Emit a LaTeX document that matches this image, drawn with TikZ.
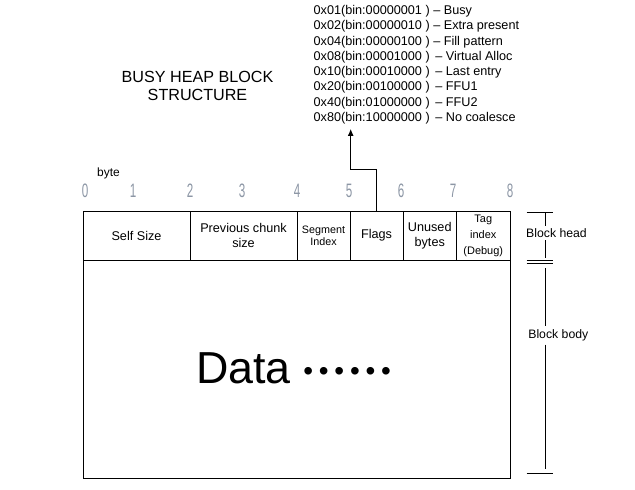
\documentclass[tikz,border=0pt]{standalone}
\usepackage{fontspec}
\setmainfont{Liberation Sans}
\usetikzlibrary{arrows.meta}
\definecolor{digitgray}{RGB}{140,150,165}
\newcommand\datadots{{\fontsize{28}{28}\selectfont\raisebox{3bp}{•\kern5.8bp•\kern5.8bp•\kern5.8bp•\kern5.8bp•\kern5.8bp•}}}
\begin{document}
\begin{tikzpicture}[x=1bp,y=-1bp,
  every node/.style={inner sep=0pt},
  cell/.style={draw, line width=0.8bp, minimum height=49bp, align=center,
    font=\fontsize{12.7}{15}\selectfont},
  smallcell/.style={cell, font=\fontsize{10.8}{12}\selectfont},
  tagcell/.style={cell, font=\fontsize{11}{16}\selectfont},
  digit/.style={text=digitgray, font=\fontsize{19.5}{19.5}\selectfont},
  lab/.style={font=\fontsize{12.3}{14}\selectfont},
  bline/.style={line width=0.8bp}]
\useasboundingbox (0,0) rectangle (635,490);

% title
\node[align=center, font=\fontsize{16.2}{18.5}\selectfont] (title) at (197.5,86) {BUSY HEAP BLOCK\\STRUCTURE};

% flag list
\node[anchor=north west, align=left, font=\fontsize{12.7}{15.3}\selectfont] (flaglist) at (313.5,5.2)
 {0x01(bin:00000001 ) -- Busy\\
  0x02(bin:00000010 ) -- Extra present\\
  0x04(bin:00000100 ) -- Fill pattern\\
  0x08(bin:00001000 )\, -- Virtual Alloc\\
  0x10(bin:00010000 )\, -- Last entry\\
  0x20(bin:00100000 )\, -- FFU1\\
  0x40(bin:01000000 )\, -- FFU2\\
  0x80(bin:10000000 )\, -- No coalesce};

% byte scale
\node[font=\fontsize{12}{14}\selectfont] (byte) at (108.5,173) {byte};
\foreach \d/\x in {0/85,1/133,2/190,3/242,4/297,5/349,6/401,7/453,8/510}
  \node[digit] (d\d) at (\x,190.5) {\scalebox{0.6}[1]{\d}};

% head cells
\node[cell, minimum width=107bp] (self) at (136.5,235.5) {Self Size};
\node[cell, minimum width=107bp] (prev) at (243.5,235.5) {Previous chunk\\size};
\node[smallcell, minimum width=53bp] (seg) at (323.5,235.5) {Segment\\Index};
\node[cell, minimum width=53bp] (flags) at (376.5,235.5) {Flags};
\node[cell, minimum width=53.5bp] (unused) at (429.75,235.5) {Unused\\bytes};
\node[tagcell, minimum width=53.5bp] (tag) at (483.25,235.5) {Tag\\index\\(Debug)};

% body
\node[draw, line width=0.8bp, minimum width=427bp, minimum height=218bp] (body) at (296.5,369) {};
\node[anchor=base west, font=\fontsize{45}{45}\selectfont] (data) at (196,383) {Data \datadots};

% arrow from flags to list
\coordinate (bend) at (350.7,169);
\coordinate (tip) at (350.7,129);
\draw[bline, -{Latex[length=7bp,width=6bp]}] (flags.north) |- (bend) -- (tip);

% right bracket
\node[lab, minimum height=14bp] (head) at (556.5,233) {Block head};
\node[lab, minimum height=18bp] (bodyl) at (558.3,335.5) {Block body};
\coordinate (ht) at (545.7,212.7);
\draw[bline] (526.7,212.7) -- (553,212.7);
\draw[bline] (ht) -- (ht |- head.north);
\draw[bline] (ht |- head.south) -- (545.7,257.5);
\draw[bline] (526.7,260) -- (553,260);
\draw[bline] (526.7,263.3) -- (553,263.3);
\draw[bline] (545.7,268) -- (ht |- bodyl.north);
\draw[bline] (ht |- bodyl.south) -- (545.7,468.5);
\draw[bline] (526.7,473.3) -- (553,473.3);
\end{tikzpicture}
\end{document}
